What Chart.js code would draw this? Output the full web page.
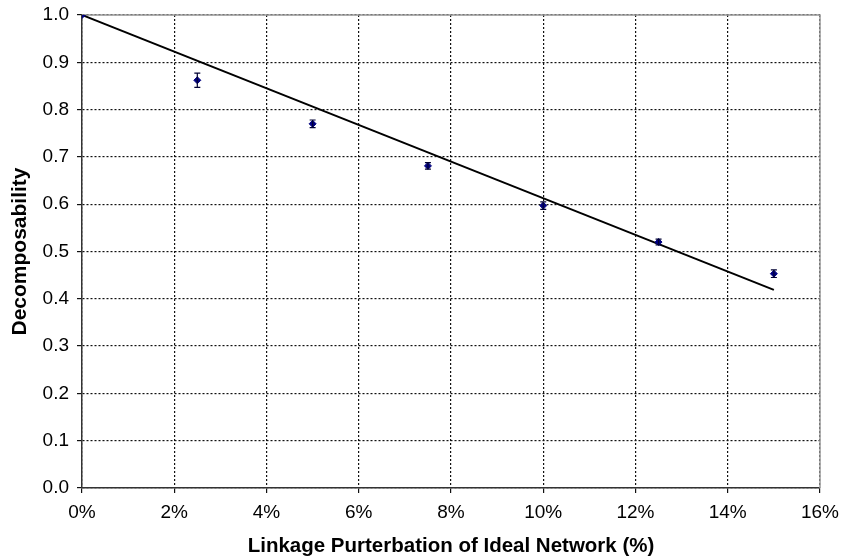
<!DOCTYPE html>
<html>
<head>
<meta charset="utf-8">
<script src="https://cdn.jsdelivr.net/npm/chart.js@4/dist/chart.umd.min.js"></script>
<style>
  html, body { margin: 0; padding: 0; background: #fff; }
  #wrap { width: 841px; height: 560px; }
</style>
</head>
<body>
<div id="wrap"><canvas id="chart"></canvas></div>
<script>
// measured points
const perturbation = [0, 2.5, 5, 7.5, 10, 12.5, 15];
const decomposability = [1.0, 0.862, 0.770, 0.681, 0.597, 0.520, 0.453];
const errors = [0, 0.015, 0.008, 0.007, 0.008, 0.006, 0.008];

// linear trend line end points
const trendX = [0, 15];
const trendY = [1.0, 0.419];

const FONT = "'Liberation Sans', Arial, sans-serif";

const errorBars = {
    id: 'errorBars',
    afterDatasetsDraw(chart) {
        const ctx = chart.ctx;
        const xs = chart.scales.x;
        const ys = chart.scales.y;
        ctx.save();
        ctx.strokeStyle = '#000033';
        ctx.lineWidth = 1.2;
        perturbation.forEach((v, i) => {
            if (!errors[i]) return;
            const x = xs.getPixelForValue(v);
            const y1 = ys.getPixelForValue(decomposability[i] + errors[i]);
            const y2 = ys.getPixelForValue(decomposability[i] - errors[i]);
            ctx.beginPath();
            ctx.moveTo(x, y1); ctx.lineTo(x, y2);
            ctx.moveTo(x - 3, y1); ctx.lineTo(x + 3, y1);
            ctx.moveTo(x - 3, y2); ctx.lineTo(x + 3, y2);
            ctx.stroke();
        });
        ctx.restore();
    }
};

const frame = {
    id: 'frame',
    beforeDatasetsDraw(chart) {
        const {ctx, chartArea: a} = chart;
        ctx.save();
        ctx.strokeStyle = '#999999';
        ctx.lineWidth = 1.5;
        ctx.beginPath();
        ctx.moveTo(a.left, a.top);
        ctx.lineTo(a.right, a.top);
        ctx.lineTo(a.right, a.bottom);
        ctx.stroke();
        ctx.restore();
    }
};

new Chart(document.getElementById('chart'), {
    type: 'scatter',
    data: {
        datasets: [
            {
                label: 'Trend',
                data: trendX.map((x, i) => ({x: x, y: trendY[i]})),
                showLine: true,
                borderColor: '#000000',
                borderWidth: 2,
                pointRadius: 0,
                order: 2
            },
            {
                label: 'Decomposability',
                data: perturbation.map((x, i) => ({x: x, y: decomposability[i]})),
                pointStyle: 'rectRot',
                pointRadius: 3.5,
                backgroundColor: '#000080',
                borderColor: '#000080',
                borderWidth: 1,
                order: 1
            }
        ]
    },
    options: {
        responsive: true,
        maintainAspectRatio: false,
        animation: false,
        layout: { padding: { top: 15, right: 21, left: 0, bottom: 0 } },
        plugins: {
            legend: { display: false },
            tooltip: { enabled: false }
        },
        scales: {
            x: {
                type: 'linear',
                min: 0,
                max: 16,
                afterFit: scale => {
                    scale.height = 72;
                    scale.paddingLeft = 0;
                    scale.paddingRight = 0;
                },
                ticks: {
                    stepSize: 2,
                    color: '#000',
                    padding: 8,
                    font: { family: FONT, size: 19 },
                    callback: v => v + '%'
                },
                grid: { color: '#111', lineWidth: 1.2, tickLength: 5 },
                border: { color: '#333', width: 1.5, dash: [2, 2] },
                title: {
                    display: true,
                    text: 'Linkage Purterbation of Ideal Network (%)',
                    color: '#000',
                    font: { family: FONT, size: 20.5, weight: 'bold' },
                    padding: { top: 0, bottom: 1 }
                }
            },
            y: {
                min: 0,
                max: 1,
                afterFit: scale => {
                    scale.width = 82;
                    scale.paddingTop = 0;
                    scale.paddingBottom = 0;
                },
                ticks: {
                    stepSize: 0.1,
                    color: '#000',
                    padding: 8,
                    font: { family: FONT, size: 19 },
                    callback: v => v.toFixed(1)
                },
                grid: { color: '#111', lineWidth: 1.2, tickLength: 5 },
                border: { color: '#333', width: 1.5, dash: [2, 2] },
                title: {
                    display: true,
                    text: 'Decomposability',
                    color: '#000',
                    font: { family: FONT, size: 21, weight: 'bold' },
                    padding: { top: 8, bottom: 0 }
                }
            }
        }
    },
    plugins: [frame, errorBars]
});
</script>
</body>
</html>
